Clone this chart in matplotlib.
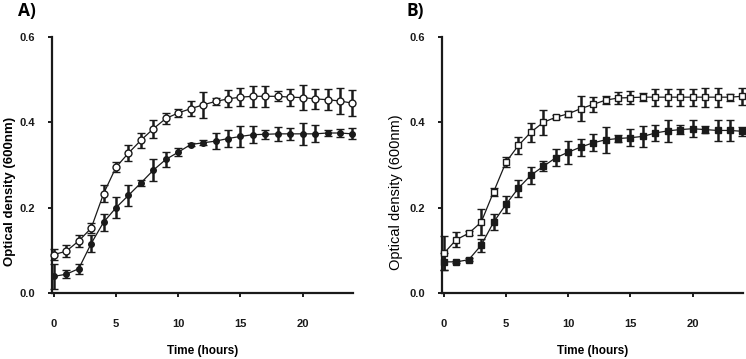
import numpy as np
import matplotlib
matplotlib.use("Agg")
import matplotlib.pyplot as plt

plt.rcParams['font.family'] = ['Liberation Sans', 'DejaVu Sans']

hours = list(range(25))

# panel A - open circles
a_open = [0.090, 0.098, 0.122, 0.152, 0.233, 0.295, 0.328, 0.358, 0.385, 0.409,
          0.422, 0.432, 0.441, 0.449, 0.455, 0.459, 0.461, 0.461, 0.461, 0.459,
          0.458, 0.455, 0.453, 0.450, 0.445]
a_open_err = [0.012, 0.014, 0.015, 0.012, 0.020, 0.012, 0.018, 0.017, 0.021, 0.014,
              0.010, 0.018, 0.030, 0.008, 0.020, 0.021, 0.024, 0.025, 0.012, 0.020,
              0.030, 0.023, 0.024, 0.030, 0.031]
# panel A - filled circles
a_fill = [0.039, 0.044, 0.057, 0.116, 0.166, 0.200, 0.229, 0.258, 0.288, 0.313,
          0.330, 0.348, 0.352, 0.356, 0.362, 0.367, 0.371, 0.372, 0.373, 0.373,
          0.373, 0.373, 0.375, 0.375, 0.373]
a_fill_err = [0.030, 0.010, 0.012, 0.020, 0.020, 0.025, 0.025, 0.008, 0.025, 0.017,
              0.010, 0.003, 0.006, 0.018, 0.020, 0.025, 0.020, 0.010, 0.016, 0.014,
              0.025, 0.020, 0.008, 0.010, 0.013]

# panel B - open squares
b_open = [0.093, 0.125, 0.140, 0.166, 0.237, 0.307, 0.346, 0.377, 0.400, 0.412,
          0.420, 0.432, 0.442, 0.452, 0.457, 0.458, 0.459, 0.459, 0.459, 0.459,
          0.459, 0.459, 0.459, 0.459, 0.461]
b_open_err = [0.040, 0.018, 0.005, 0.030, 0.010, 0.012, 0.020, 0.022, 0.030, 0.005,
              0.007, 0.030, 0.018, 0.010, 0.013, 0.015, 0.010, 0.020, 0.020, 0.020,
              0.020, 0.022, 0.022, 0.008, 0.020]
# panel B - filled squares
b_fill = [0.073, 0.073, 0.078, 0.112, 0.166, 0.208, 0.246, 0.276, 0.297, 0.317,
          0.330, 0.342, 0.352, 0.359, 0.362, 0.364, 0.367, 0.375, 0.380, 0.383,
          0.385, 0.383, 0.381, 0.381, 0.379]
b_fill_err = [0.020, 0.003, 0.003, 0.015, 0.018, 0.020, 0.020, 0.020, 0.012, 0.020,
              0.027, 0.020, 0.020, 0.030, 0.008, 0.020, 0.025, 0.018, 0.025, 0.010,
              0.020, 0.008, 0.025, 0.025, 0.010]

W, H = 746, 359
fig = plt.figure(figsize=(W / 100, H / 100), dpi=100)

ax_w = 301 / W
ax_h = 256 / H
bot = 66 / H
axA = fig.add_axes([52 / W, bot, ax_w, ax_h])
axB = fig.add_axes([442 / W, bot, ax_w, ax_h])


def series(ax, y, err, marker, face, ms):
    ax.errorbar(hours, y, yerr=err, fmt='-', color='#1a1a1a', lw=0.9,
                marker=marker, ms=ms, mfc=face, mec='#1a1a1a', mew=1.0,
                elinewidth=1.8, capsize=3.2, capthick=1.8, ecolor='#1a1a1a',
                clip_on=False, zorder=3)


series(axA, a_open, a_open_err, 'o', 'white', 5)
series(axA, a_fill, a_fill_err, 'o', '#1a1a1a', 4)
series(axB, b_open, b_open_err, 's', 'white', 5)
series(axB, b_fill, b_fill_err, 's', '#1a1a1a', 4.5)

for ax, lab, ylw, yfs, ylx, tx in [(axA, 'A)', 'bold', 9.5, -0.118, -0.083),
                                   (axB, 'B)', 'normal', 10.5, -0.13, -0.09)]:
    ax.set_xlim(-0.15, 24.05)
    ax.set_ylim(0, 0.6)
    ax.set_xticks([0, 5, 10, 15, 20])
    ax.set_yticks([0.0, 0.2, 0.4, 0.6])
    ax.set_yticklabels(['0.0', '0.2', '0.4', '0.6'])
    for s in ['top', 'right']:
        ax.spines[s].set_visible(False)
    for s in ['left', 'bottom']:
        ax.spines[s].set_linewidth(1.6)
        ax.spines[s].set_color('#1a1a1a')
    ax.tick_params(axis='both', direction='out', length=3, width=1.4,
                   colors='#1a1a1a', labelsize=8)
    ax.tick_params(axis='x', pad=16)
    ax.tick_params(axis='y', pad=9)
    for t in ax.get_xticklabels() + ax.get_yticklabels():
        t.set_fontweight('bold')
    ax.set_xlabel('Time (hours)', fontsize=8.5, fontweight='bold')
    ax.xaxis.set_label_coords(0.5, -0.205)
    ax.set_ylabel('Optical density (600nm)', fontsize=yfs, fontweight=ylw)
    ax.yaxis.set_label_coords(ylx, 0.395)
    ax.text(tx, 1.10, lab, transform=ax.transAxes, fontsize=12.5,
            fontweight='bold', ha='center', va='center',
            family=['Open Sans', 'DejaVu Sans'])

fig.savefig('out.png', dpi=100)
